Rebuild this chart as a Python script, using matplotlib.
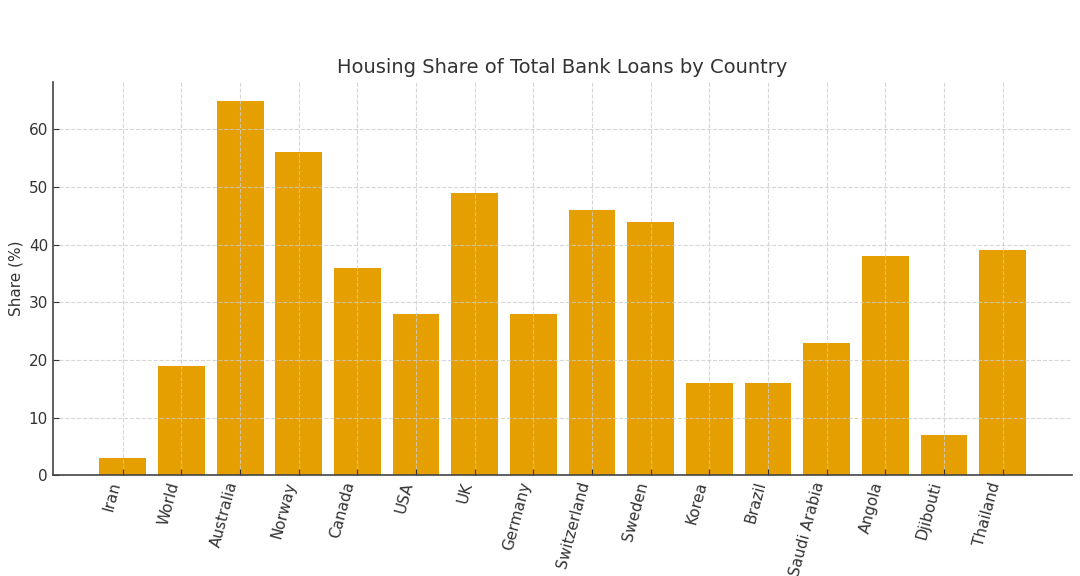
import matplotlib
matplotlib.use("Agg")
import matplotlib.pyplot as plt

countries = ["Iran", "World", "Australia", "Norway", "Canada", "USA", "UK", "Germany",
             "Switzerland", "Sweden", "Korea", "Brazil", "Saudi Arabia", "Angola",
             "Djibouti", "Thailand"]
share = [3, 19, 65, 56, 36, 28, 49, 28, 46, 44, 16, 16, 23, 38, 7, 39]

fig = plt.figure(figsize=(10.8, 5.76), dpi=100)
ax = fig.add_axes([0.049, 0.175, 0.944, 0.683])

ax.bar(countries, share, color="#E69F00", width=0.8)
ax.grid(True, linestyle="--", color="#cccccc", linewidth=0.8, alpha=0.8)

ax.set_title("Housing Share of Total Bank Loans by Country", fontsize=14, color="#333333", pad=6)
ax.set_ylabel("Share (%)", fontsize=11, color="#333333")
ax.tick_params(axis="both", direction="in", labelsize=11, colors="#333333", length=4)
plt.setp(ax.get_xticklabels(), rotation=75, ha="right", rotation_mode="default")

for s in ["top", "right"]:
    ax.spines[s].set_visible(False)
for s in ["left", "bottom"]:
    ax.spines[s].set_color("#444444")
    ax.spines[s].set_linewidth(1.2)

fig.savefig("out.png", dpi=100)
